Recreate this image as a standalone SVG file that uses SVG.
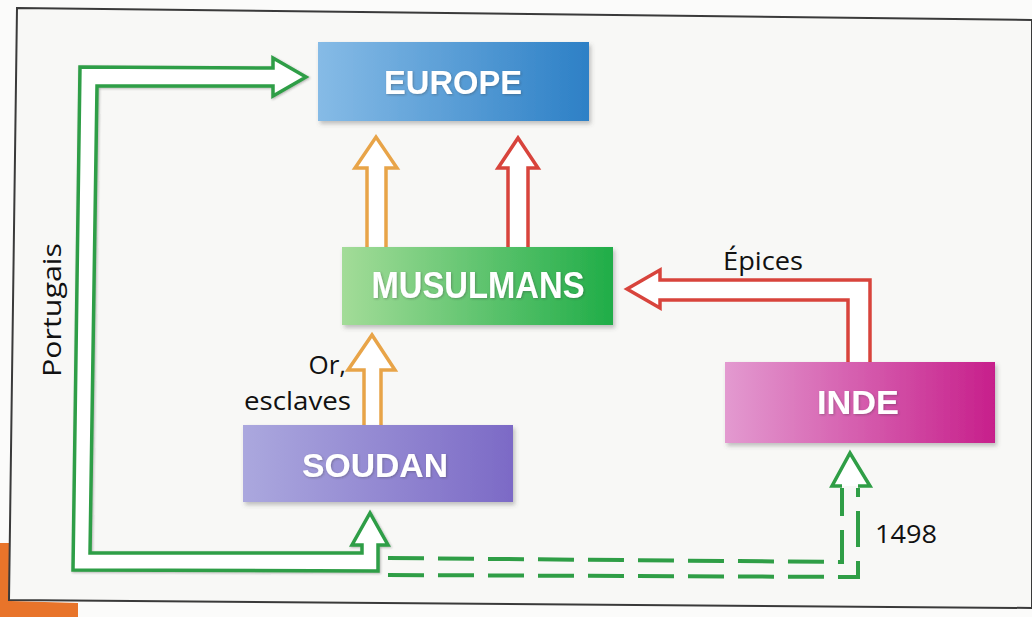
<svg xmlns="http://www.w3.org/2000/svg" width="1032" height="617" viewBox="0 0 1032 617">
  <defs>
    <linearGradient id="gEurope" x1="0" y1="0" x2="1" y2="0">
      <stop offset="0" stop-color="#86bbe6"/>
      <stop offset="1" stop-color="#2d80c6"/>
    </linearGradient>
    <linearGradient id="gMus" x1="0" y1="0" x2="1" y2="0">
      <stop offset="0" stop-color="#a3dc98"/>
      <stop offset="1" stop-color="#20ad48"/>
    </linearGradient>
    <linearGradient id="gSoudan" x1="0" y1="0" x2="1" y2="0">
      <stop offset="0" stop-color="#aba8de"/>
      <stop offset="1" stop-color="#7c6ac6"/>
    </linearGradient>
    <linearGradient id="gInde" x1="0" y1="0" x2="1" y2="0">
      <stop offset="0" stop-color="#e39ad0"/>
      <stop offset="1" stop-color="#c71f8b"/>
    </linearGradient>
    <filter id="shadow" x="-10%" y="-20%" width="125%" height="150%">
      <feDropShadow dx="2" dy="3" stdDeviation="2" flood-color="#555" flood-opacity="0.35"/>
    </filter>
    <filter id="tshadow" x="-10%" y="-20%" width="130%" height="150%">
      <feDropShadow dx="1" dy="1" stdDeviation="0.8" flood-color="#333" flood-opacity="0.35"/>
    </filter>
  </defs>
  <style>
    .box-label { font-family: "Liberation Sans", Arial, sans-serif; font-weight: bold; fill: #ffffff; text-anchor: middle; }
    .label { font-family: "Open Sans", "Liberation Sans", sans-serif; fill: #111111; font-size: 26px; }
    .arrow { fill: #ffffff; stroke-width: 3.5; stroke-linejoin: miter; }
    .green { stroke: #2f9e46; }
    .orange { stroke: #e8a448; }
    .red { stroke: #d8443c; }
    .dash { fill: none; stroke: #2f9e46; stroke-width: 4; stroke-dasharray: 36 14; }
  </style>

  <rect x="0" y="0" width="1032" height="617" fill="#fbfbfa"/>
  <polygon points="0,543 11,543 11,601 78,603 78,617 0,617" fill="#e8742a"/>
  <polygon points="17,8 1032,20 1032,608 9,600" fill="#f8f8f6" stroke="#3a3a3a" stroke-width="2"/>

  <g id="connectors">
    <path class="arrow green" filter="url(#tshadow)" d="M378,571 L73,570 L80,67 L273,68 L273,58 L306,77 L273,96 L273,86 L97,86 L90,553 L362,553 L362,545 L352,545 L370,513 L388,545 L378,545 Z"/>
    <path class="dash" d="M388,558 L842,562 L842,488"/>
    <path class="dash" d="M388,575 L858,577 L858,488"/>
    <path class="arrow green" d="M842,486 L832,486 L850,453 L870,486 L858,486"/>
    <path class="arrow red" d="M848,362 L848,300 L660,300 L660,308 L627,289 L660,270 L660,280 L870,280 L870,362"/>
    <path class="arrow orange" d="M364,425 L364,370 L348,370 L372,335 L395,370 L381,370 L381,425"/>
    <path class="arrow orange" d="M367,247 L367,168 L355,168 L376,137 L397,168 L386,168 L386,247"/>
    <path class="arrow red" d="M508,247 L508,168 L498,168 L518,138 L538,168 L528,168 L528,247"/>
  </g>

  <g id="europe">
    <rect x="318" y="42" width="271" height="79" fill="url(#gEurope)" filter="url(#shadow)"/>
    <text class="box-label" x="453" y="94" font-size="34" textLength="138" lengthAdjust="spacingAndGlyphs" filter="url(#tshadow)">EUROPE</text>
  </g>
  <g id="musulmans">
    <rect x="342" y="247" width="271" height="78" fill="url(#gMus)" filter="url(#shadow)"/>
    <text class="box-label" x="478" y="298" font-size="36" textLength="213" lengthAdjust="spacingAndGlyphs" filter="url(#tshadow)">MUSULMANS</text>
  </g>
  <g id="soudan">
    <rect x="243" y="425" width="270" height="77" fill="url(#gSoudan)" filter="url(#shadow)"/>
    <text class="box-label" x="375" y="477" font-size="34" textLength="146" lengthAdjust="spacingAndGlyphs" filter="url(#tshadow)">SOUDAN</text>
  </g>
  <g id="inde">
    <rect x="725" y="362" width="270" height="81" fill="url(#gInde)" filter="url(#shadow)"/>
    <text class="box-label" x="858" y="414" font-size="33" textLength="82" lengthAdjust="spacingAndGlyphs" filter="url(#tshadow)">INDE</text>
  </g>

  <g id="labels">
    <text class="label" x="723" y="270" textLength="80" lengthAdjust="spacingAndGlyphs">Épices</text>
    <text class="label" x="346" y="374" text-anchor="end">Or,</text>
    <text class="label" x="351" y="410" text-anchor="end" textLength="107" lengthAdjust="spacingAndGlyphs">esclaves</text>
    <text class="label" x="875" y="543" textLength="62" lengthAdjust="spacingAndGlyphs">1498</text>
    <text class="label" transform="translate(61,377) rotate(-90)" textLength="134" lengthAdjust="spacingAndGlyphs">Portugais</text>
  </g>
</svg>
